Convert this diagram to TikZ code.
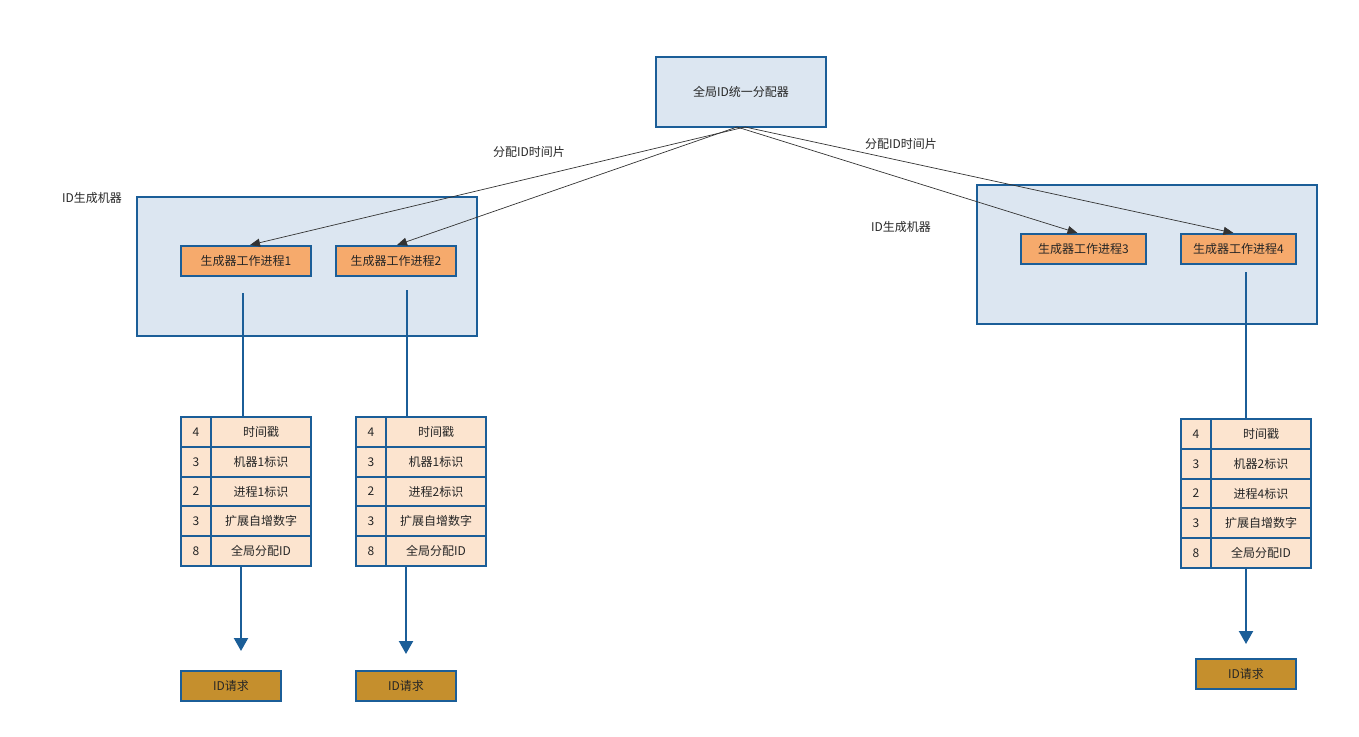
\documentclass[tikz,border=0pt]{standalone}
\usepackage{fontspec}
\setmainfont{Noto Sans CJK SC}
\usetikzlibrary{arrows.meta}
\definecolor{bord}{HTML}{1B5E98}
\definecolor{grpfill}{HTML}{DCE6F1}
\definecolor{procfill}{HTML}{F6AA6C}
\definecolor{cellfill}{HTML}{FCE4CF}
\definecolor{reqfill}{HTML}{C58F2D}
\definecolor{thin}{HTML}{333333}
\tikzset{
  txt/.style={font=\fontsize{12}{14}\selectfont, text=black!85},
  grp/.style={draw=bord, line width=2pt, fill=grpfill, anchor=north west, inner sep=0pt},
  proc/.style={txt, draw=bord, line width=2pt, fill=procfill, inner sep=0pt},
  cell/.style={txt, draw=bord, line width=2pt, fill=cellfill, inner sep=0pt},
  req/.style={txt, draw=bord, line width=2pt, fill=reqfill, inner sep=0pt},
  lbl/.style={txt},
  thinarrow/.style={draw=thin, line width=0.7pt, -{Triangle[length=10pt,width=8pt]}},
  bluearrow/.style={draw=bord, line width=2.2pt, -{Triangle[length=13pt,width=14pt]}},
  blueline/.style={draw=bord, line width=2.2pt}
}
\begin{document}
\begin{tikzpicture}[x=1pt,y=-1pt]
\useasboundingbox (0,0) rectangle (1359,736);
% top allocator
\node[txt, draw=bord, line width=2pt, fill=grpfill, minimum width=170pt, minimum height=70pt, inner sep=0pt] (top) at (741,92) {全局ID统一分配器};
% group boxes
\node[grp, minimum width=340pt, minimum height=139pt] (g1) at (136,196) {};
\node[grp, minimum width=340pt, minimum height=139pt] (g2) at (976,184) {};
% labels
\node[lbl] (l1) at (92,198) {ID生成机器};
\node[lbl] (l2) at (901,227) {ID生成机器};
\node[lbl] (a1) at (529,152) {分配ID时间片};
\node[lbl] (a2) at (901,144) {分配ID时间片};
% processes
\node[proc, minimum width=130pt, minimum height=30pt] (p1) at (246,261) {生成器工作进程1};
\node[proc, minimum width=120pt, minimum height=30pt] (p2) at (396,261) {生成器工作进程2};
\node[proc, minimum width=125pt, minimum height=30pt] (p3) at (1083.5,249) {生成器工作进程3};
\node[proc, minimum width=115pt, minimum height=30pt] (p4) at (1238.5,249) {生成器工作进程4};
% arrows from allocator
\coordinate (o1) at (737,127);
\coordinate (o2) at (745,127);
\draw[thinarrow] (o2) -- ([xshift=4pt]p1.north);
\draw[thinarrow] (o1) -- ([xshift=1pt]p2.north);
\draw[thinarrow] (o1) -- ([xshift=-6pt]p3.north);
\draw[thinarrow] (o2) -- ([xshift=-5pt]p4.north);
% tables
\foreach \t/\x/\y/\m/\p in {t1/181/417/1/1, t2/356/417/1/2, t3/1181/419/2/4}{
  \foreach \i/\n/\s in {1/4/时间戳, 2/3/机器\m 标识, 3/2/进程\p 标识, 4/3/扩展自增数字, 5/8/全局分配ID}{
    \node[cell, minimum width=30pt, minimum height=30pt] (\t n\i) at ({\x+15},{\y+15+(\i-1)*29.8}) {\n};
    \node[cell, minimum width=100pt, minimum height=30pt] (\t s\i) at ({\x+80},{\y+15+(\i-1)*29.8}) {\s};
  }
}
% vertical lines into tables
\coordinate (v1) at (243,293);
\coordinate (v2) at (407,290);
\coordinate (v3) at (1246,272);
\draw[blueline] (v1) -- (v1 |- t1s1.north);
\draw[blueline] (v2) -- (v2 |- t2s1.north);
\draw[blueline] (v3) -- (v3 |- t3s1.north);
% request boxes
\node[req, minimum width=100pt, minimum height=30pt] (r1) at (231,686) {ID请求};
\node[req, minimum width=100pt, minimum height=30pt] (r2) at (406,686) {ID请求};
\node[req, minimum width=100pt, minimum height=30pt] (r3) at (1246,674) {ID请求};
\coordinate (e1) at (241,651);
\coordinate (e2) at (406,654);
\coordinate (e3) at (1246,644);
\draw[bluearrow] (e1 |- t1s5.south) -- (e1);
\draw[bluearrow] (e2 |- t2s5.south) -- (e2);
\draw[bluearrow] (e3 |- t3s5.south) -- (e3);
\end{tikzpicture}
\end{document}
